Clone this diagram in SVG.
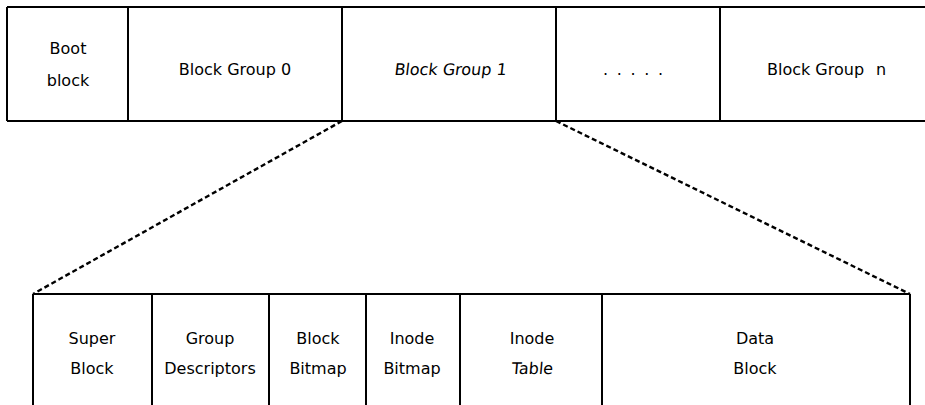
<svg xmlns="http://www.w3.org/2000/svg" width="925" height="405" viewBox="0 0 925 405">
<style>
.ln{stroke:#000;stroke-width:2;fill:none}
.ds{stroke:#000;stroke-width:2.4;fill:none;stroke-dasharray:5 3}
text{font-family:"DejaVu Sans","Liberation Sans",sans-serif;font-size:16px;fill:#000;text-anchor:middle}
</style>
<rect width="925" height="405" fill="#fff"/>
<g id="top-row">
<path class="ln" d="M7 7H925M7 121H925M7 7V121"/>
</g>
<g id="boot-block"><path class="ln" d="M128 7V121"/><text x="68" y="54">Boot</text><text x="68" y="86">block</text></g>
<g id="block-group-0"><path class="ln" d="M342 7V121"/><text x="235" y="75">Block Group 0</text></g>
<g id="block-group-1"><path class="ln" d="M556 7V121"/><text transform="translate(450 75) skewX(-7)" x="0" y="0">Block Group 1</text></g>
<g id="dots"><path class="ln" d="M720 7V121"/><text x="634" y="75" style="letter-spacing:1.8px">. . . . .</text></g>
<g id="block-group-n"><text x="767" y="75" style="text-anchor:start">Block Group<tspan x="876">n</tspan></text></g>
<g id="connectors">
<path class="ds" d="M342 121L33 294"/>
<path class="ds" d="M556 121L910 294"/>
</g>
<g id="bottom-row"><path class="ln" d="M33 294H910M33 294V405M910 294V405"/></g>
<g id="super-block"><path class="ln" d="M152 294V405"/><text x="92" y="344">Super</text><text x="92" y="374">Block</text></g>
<g id="group-descriptors"><path class="ln" d="M269 294V405"/><text x="210" y="344">Group</text><text x="210" y="374">Descriptors</text></g>
<g id="block-bitmap"><path class="ln" d="M366 294V405"/><text x="318" y="344">Block</text><text x="318" y="374">Bitmap</text></g>
<g id="inode-bitmap"><path class="ln" d="M460 294V405"/><text x="412" y="344">Inode</text><text x="412" y="374">Bitmap</text></g>
<g id="inode-table"><path class="ln" d="M602 294V405"/><text x="532" y="344">Inode</text><text transform="translate(532 374) skewX(-5)" x="0" y="0">Table</text></g>
<g id="data-block"><text x="755" y="344">Data</text><text x="755" y="374">Block</text></g>
</svg>
